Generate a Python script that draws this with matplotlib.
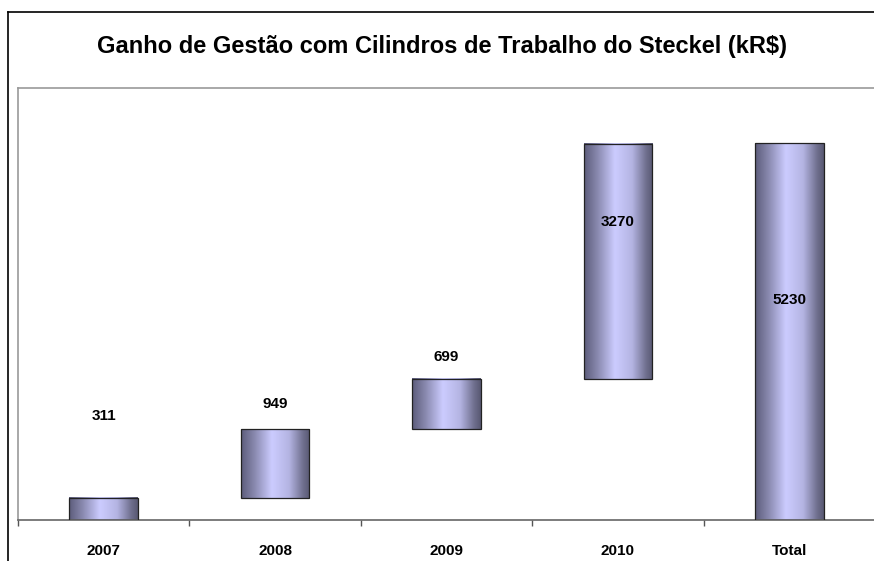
import numpy as np
import matplotlib
matplotlib.use("Agg")
import matplotlib.pyplot as plt
from matplotlib.colors import LinearSegmentedColormap
from matplotlib.lines import Line2D

plt.rcParams['font.family'] = ['Liberation Sans', 'DejaVu Sans']

# waterfall data (kR$)
categories = ['2007', '2008', '2009', '2010', 'Total']
gains = [311, 949, 699, 3270, 5230]
# height (kR$) at which each value label sits in the original
label_heights = [1444, 1611, 2264, 4139, 3056]

bases = list(np.cumsum([0] + gains[:-2])) + [0]

W, H = 874, 561
fig = plt.figure(figsize=(W / 100, H / 100), dpi=100)

# outer chart border (only top and left visible)
fig.add_artist(Line2D([8 / W, 8 / W], [0, 1 - 12 / H], color='black', lw=1.2))
fig.add_artist(Line2D([8 / W, 1], [1 - 12 / H, 1 - 12 / H], color='black', lw=1.2))

ax = fig.add_axes([18 / W, 41 / H, 857 / W, 432 / H])

cmap = LinearSegmentedColormap.from_list(
    'cyl', [(0.0, '#5c5c7a'), (0.2, '#8a8ab0'), (0.45, '#ccccff'),
            (0.7, '#b4b4e2'), (0.9, '#70708f'), (1.0, '#585872')])
grad = np.linspace(0, 1, 256).reshape(1, -1)

bw = 0.4
x = np.arange(len(categories))
for xi, b, g in zip(x, bases, gains):
    ax.imshow(grad, cmap=cmap, aspect='auto', interpolation='bicubic',
              extent=[xi - bw / 2, xi + bw / 2, b, b + g], zorder=2)
ax.bar(x, gains, bottom=bases, width=bw, fill=False, edgecolor='#222222',
       lw=0.9, zorder=3)

for xi, g, yl in zip(x, gains, label_heights):
    ax.text(xi, yl, str(g), ha='center', va='center', fontsize=11,
            fontweight='bold', zorder=4)

ax.set_xlim(-0.5, len(categories) - 0.5)
ax.set_ylim(0, 6000)
ax.set_yticks([])
ax.set_xticks(x - 0.5, minor=False)
ax.set_xticklabels([])
ax.set_xticks(x, minor=True)
ax.set_xticklabels(categories, minor=True, fontsize=11, fontweight='bold')
ax.tick_params(axis='x', which='major', length=4, color='#555555', width=1)
ax.tick_params(axis='x', which='minor', length=0, pad=17)

for s in ['top', 'left', 'right']:
    ax.spines[s].set_color('#999999')
    ax.spines[s].set_linewidth(1.2)
ax.spines['bottom'].set_color('#666666')
ax.spines['bottom'].set_linewidth(1.2)

fig.text(442 / W, 1 - 47 / H, 'Ganho de Gestão com Cilindros de Trabalho do Steckel (kR$)',
         ha='center', va='center', fontsize=17, fontweight='bold')

fig.savefig('out.png', dpi=100)
